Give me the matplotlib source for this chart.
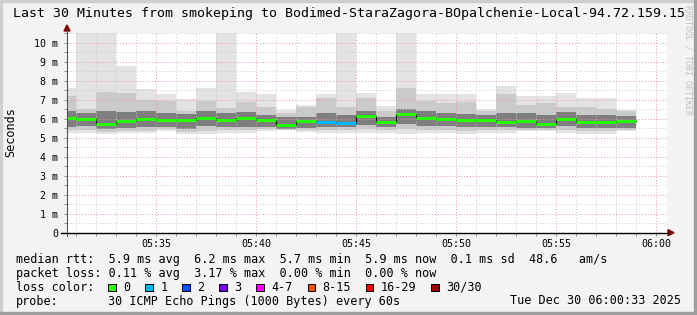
import pandas as pd
import matplotlib
matplotlib.use("Agg")
import matplotlib.pyplot as plt
import matplotlib.dates as mdates
from matplotlib.patches import Rectangle, Polygon
from matplotlib.lines import Line2D

W, H = 697, 315

# one smokeping step per minute, labelled by the end of the step (05:31 .. 05:59)
seg_end = pd.date_range("2025-12-30 05:31", "2025-12-30 05:59", freq="min")
seg_start = seg_end - pd.Timedelta(minutes=1)

# smoke envelope (ms)
ping_max = [7.60, 10.6, 10.6, 8.76, 7.53, 7.30, 7.05, 7.60, 10.6, 7.42,
            7.30, 6.43, 6.74, 7.30, 10.6, 7.33, 6.67, 10.6, 7.30, 7.29,
            7.29, 6.50, 7.70, 7.19, 7.19, 7.36, 7.07, 7.07, 6.46]
smoke_hi2 = [7.20, 6.50, 7.40, 7.35, 7.00, 6.95, 6.40, 6.90, 6.55, 6.85,
             6.60, 6.30, 6.60, 7.10, 6.60, 7.10, 6.40, 7.60, 6.90, 6.80,
             6.85, 6.40, 7.30, 6.70, 6.80, 6.60, 6.60, 6.50, 6.40]
smoke_hi3 = [6.40, 6.30, 6.40, 6.35, 6.40, 6.30, 6.25, 6.40, 6.30, 6.35,
             6.20, 6.10, 6.10, 6.30, 6.20, 6.40, 6.10, 6.50, 6.40, 6.30,
             6.25, 6.20, 6.30, 6.30, 6.20, 6.35, 6.20, 6.20, 6.15]
median = [6.03, 5.97, 5.73, 5.87, 5.97, 5.92, 5.95, 6.04, 5.95, 6.04,
          5.90, 5.68, 5.85, 5.84, 5.79, 6.15, 5.84, 6.22, 6.05, 6.00,
          5.91, 5.94, 5.82, 5.89, 5.71, 6.00, 5.82, 5.82, 5.87]
smoke_lo3 = [5.55, 5.60, 5.45, 5.50, 5.55, 5.55, 5.45, 5.60, 5.55, 5.55,
             5.55, 5.45, 5.50, 5.55, 5.55, 5.65, 5.55, 5.70, 5.60, 5.60,
             5.55, 5.55, 5.55, 5.50, 5.50, 5.60, 5.50, 5.50, 5.50]
smoke_lo2 = [5.40, 5.40, 5.30, 5.35, 5.35, 5.45, 5.30, 5.35, 5.40, 5.40,
             5.45, 5.42, 5.40, 5.40, 5.40, 5.45, 5.40, 5.45, 5.40, 5.40,
             5.35, 5.40, 5.40, 5.40, 5.40, 5.40, 5.35, 5.35, 5.40]
ping_min = [5.25, 5.25, 5.20, 5.25, 5.22, 5.33, 5.17, 5.17, 5.22, 5.25,
            5.33, 5.38, 5.30, 5.25, 5.22, 5.25, 5.25, 5.17, 5.25, 5.25,
            5.17, 5.22, 5.25, 5.33, 5.33, 5.22, 5.17, 5.17, 5.33]
# lost pings per step
lost = [0, 0, 0, 0, 0, 0, 0, 0, 0, 0,
        0, 0, 0, 1, 1, 0, 0, 0, 0, 0,
        0, 0, 0, 0, 0, 0, 0, 0, 0]

loss_labels = ["0", "1", "2", "3", "4-7", "8-15", "16-29", "30/30"]
loss_colors = ["#26ff00", "#00b8ff", "#0059ff", "#7e00ff",
               "#ff00ff", "#ff5500", "#ff0000", "#a00000"]

y_ticks = [0, 1, 2, 3, 4, 5, 6, 7, 8, 9, 10]
y_ticklabels = ["0", "1 m", "2 m", "3 m", "4 m", "5 m", "6 m", "7 m", "8 m", "9 m", "10 m"]

title = "Last 30 Minutes from smokeping to Bodimed-StaraZagora-BOpalchenie-Local-94.72.159.15"
line_rtt = "median rtt:  5.9 ms avg  6.2 ms max  5.7 ms min  5.9 ms now  0.1 ms sd  48.6   am/s"
line_loss = "packet loss: 0.11 % avg  3.17 % max  0.00 % min  0.00 % now"
probe_text = "30 ICMP Echo Pings (1000 Bytes) every 60s"
stamp = "Tue Dec 30 06:00:33 2025"

plt.rcParams['font.family'] = ['DejaVu Sans Mono']


def fx(x):
    return x / W


def fy(y):
    return 1 - y / H


fig = plt.figure(figsize=(W / 100, H / 100), dpi=100, facecolor="#f3f3f3")

# frame shading
fig.patches.append(Rectangle((0, fy(2)), 1, 2 / H, transform=fig.transFigure, color="#cfcfcf", zorder=0))
fig.patches.append(Rectangle((0, 0), 2 / W, 1, transform=fig.transFigure, color="#cfcfcf", zorder=0))
fig.patches.append(Rectangle((0, 0), 1, 3 / H, transform=fig.transFigure, color="#9e9e9e", zorder=0))
fig.patches.append(Rectangle((fx(W - 3), 0), 3 / W, 1, transform=fig.transFigure, color="#9e9e9e", zorder=0))

ax = fig.add_axes([fx(67), fy(232.7), fx(667) - fx(67), (232.7 - 33) / H])
ax.set_facecolor("white")

width = 1 / 1440
bands = [(ping_min, ping_max, "#e3e3e3"),
         (smoke_lo2, smoke_hi2, "#cacaca"),
         (smoke_lo3, smoke_hi3, "#7e7e7e")]
for lo, hi, col in bands:
    ax.bar(seg_start, [h - l for h, l in zip(hi, lo)], bottom=lo, width=width,
           align="edge", color=col, linewidth=0, zorder=1)

step_x = list(seg_start) + [seg_end[-1]]
step_y = median + [median[-1]]
ax.step(step_x, step_y, where="post", color="#000000", lw=0.8, zorder=4)
ax.hlines(median, seg_start, seg_end, colors=[loss_colors[n] for n in lost], lw=2.2, zorder=5)

ax.set_xlim(pd.Timestamp("2025-12-30 05:30:33"), pd.Timestamp("2025-12-30 06:00:33"))
ax.set_ylim(0, 10.35)
ax.xaxis.set_major_locator(mdates.MinuteLocator(byminute=range(0, 60, 5)))
ax.xaxis.set_minor_locator(mdates.MinuteLocator())
ax.xaxis.set_major_formatter(mdates.DateFormatter("%H:%M"))
ax.set_yticks(y_ticks)
ax.set_yticklabels(y_ticklabels)
ax.set_yticks([v + 0.5 for v in y_ticks[:-1]] + [10.5], minor=True)
ax.set_axisbelow(False)
dots = (0, (1, 2))
ax.grid(which="minor", color="#c8c8c8", ls=dots, lw=0.7)
ax.grid(which="major", color="#e09a9a", ls=dots, lw=0.7)
ax.tick_params(which="both", length=2, width=0.7, color="#909090", labelsize=7.2)
ax.tick_params(axis="y", which="major", pad=4.5)
ax.tick_params(axis="x", which="major", pad=2.5)
for s in ax.spines.values():
    s.set_visible(False)

# axes with arrows
fig.add_artist(Line2D([fx(67), fx(67)], [fy(236), fy(30)], color="#555555", lw=0.8))
fig.add_artist(Line2D([fx(61), fx(668)], [fy(232.7), fy(232.7)], color="#000000", lw=1.0))
fig.add_artist(Polygon([[fx(64), fy(31)], [fx(70), fy(31)], [fx(67), fy(25)]], closed=True, color="#7f0000"))
fig.add_artist(Polygon([[fx(668), fy(229.7)], [fx(668), fy(235.7)], [fx(674), fy(232.7)]], closed=True, color="#7f0000"))

fig.text(fx(13), fy(13), title, fontsize=9.5, va="center", ha="left")
fig.text(fx(11), fy(132), "Seconds", fontsize=8.5, rotation=90, va="center", ha="center")
fig.text(fx(688), fy(5), "RRDTOOL / TOBI OETIKER", fontsize=6, rotation=270,
         va="top", ha="center", color="#c0c0c0")

fig.text(fx(16), fy(259.3), line_rtt, fontsize=8.5, va="center", ha="left")
fig.text(fx(16), fy(273.3), line_loss, fontsize=8.5, va="center", ha="left")
fig.text(fx(16), fy(287.3), "loss color:", fontsize=8.5, va="center", ha="left")
fig.text(fx(16), fy(301), "probe:", fontsize=8.5, va="center", ha="left")
fig.text(fx(108), fy(301), probe_text, fontsize=8.5, va="center", ha="left")
fig.text(fx(681), fy(301), stamp, fontsize=8.5, va="center", ha="right")

sw_x = 108.3
for lab, col in zip(loss_labels, loss_colors):
    fig.patches.append(Rectangle((fx(sw_x), fy(291)), 7.5 / W, 7.5 / H, transform=fig.transFigure,
                                 facecolor=col, edgecolor="black", lw=0.7))
    fig.text(fx(sw_x + 15), fy(287.3), lab, fontsize=8.5, va="center", ha="left")
    sw_x += 37 + 7.1 * (len(lab) - 1)

fig.savefig("out.png", dpi=100, facecolor=fig.get_facecolor())
